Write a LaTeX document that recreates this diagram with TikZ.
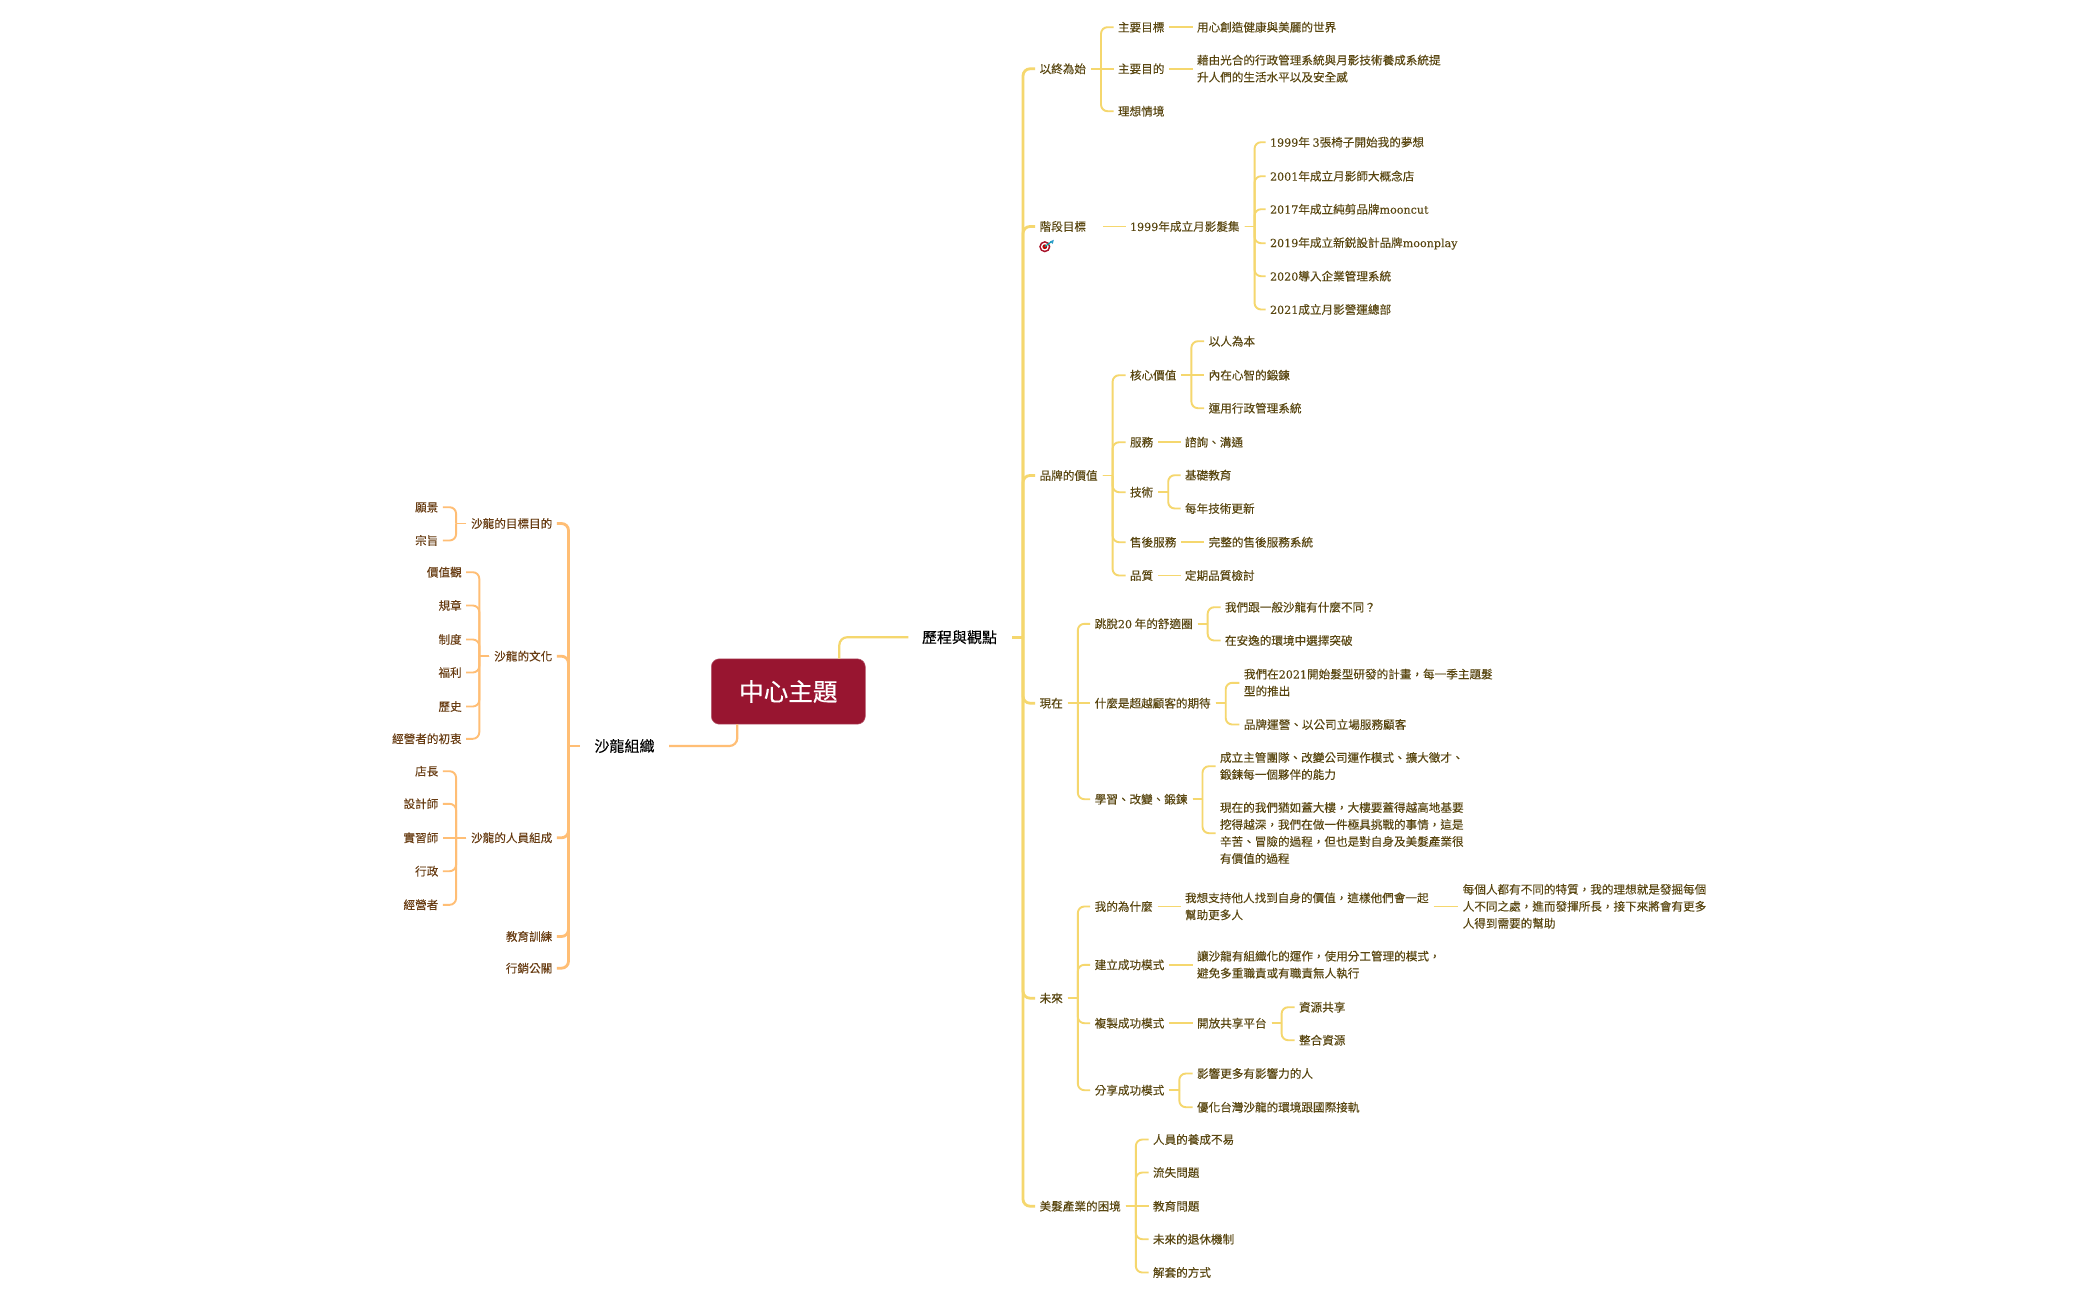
\documentclass[tikz,border=0pt]{standalone}
\usepackage{fontspec}
\setmainfont{Noto Sans CJK TC}[FakeBold=0.04]
\newfontfamily\latf{DejaVu Serif}[Scale=0.96,FakeBold=0.04]
\newfontfamily\rootf{Noto Sans CJK TC}[FakeBold=0.4]
\newcommand{\ltn}[1]{{\latf #1}}
\newcommand{\sr}{\rule[-0.12em]{0pt}{1em}}
\definecolor{lineR}{HTML}{F5D76E}
\definecolor{lineL}{HTML}{FFBE75}
\definecolor{txtR}{HTML}{594610}
\definecolor{txtL}{HTML}{683C12}
\definecolor{rootC}{HTML}{981530}
\tikzset{
  base/.style={inner sep=0pt,outer sep=0pt,align=left,font=\fontsize{11.6}{17}\selectfont,execute at begin node=\sr},
  rt/.style={base,anchor=west,text=txtR},
  lt/.style={base,anchor=east,text=txtL,align=right},
  bigt/.style={inner sep=0pt,outer sep=0pt,font=\fontsize{15}{18}\selectfont,text=black,execute at begin node=\sr},
  rootbox/.style={draw=rootC!70!white,line width=0.5pt,fill=rootC,rounded corners=8pt,minimum width=154pt,minimum height=65.4pt,inner sep=0pt,text=white,font=\rootf\fontsize{24.6}{28}\selectfont},
  linkR/.style={draw=lineR,line width=1.9pt,rounded corners=6.5pt},
  linkL/.style={draw=lineL,line width=1.9pt,rounded corners=6.5pt},
  trunkR/.style={draw=lineR,line width=2.8pt,rounded corners=7pt},
  trunkL/.style={draw=lineL,line width=2.8pt,rounded corners=7pt},
  mainR/.style={draw=lineR,line width=2.2pt,rounded corners=8pt},
  mainL/.style={draw=lineL,line width=2.2pt,rounded corners=8pt}
}
% bracket connectors: parent, child
\newcommand{\rc}[2]{%
  \draw[linkR] ([xshift=5pt]#1.east) -- ([xshift=15pt]#1.east);
  \draw[linkR] ([xshift=15pt]#1.east) |- ([xshift=-4.5pt]#2.west);}
\newcommand{\rtk}[2]{%
  \draw[trunkR] ([xshift=15pt]#1.east) -- ([xshift=26pt]#1.east);
  \draw[trunkR] ([xshift=26pt]#1.east) |- ([xshift=-4.5pt]#2.west);}
\newcommand{\lc}[2]{%
  \draw[linkL] ([xshift=-5pt]#1.west) -- ([xshift=-15pt]#1.west);
  \draw[linkL] ([xshift=-15pt]#1.west) |- ([xshift=4.5pt]#2.east);}
\newcommand{\ltk}[2]{%
  \draw[trunkL] ([xshift=-15pt]#1.west) -- ([xshift=-26pt]#1.west);
  \draw[trunkL] ([xshift=-26pt]#1.west) |- ([xshift=4.5pt]#2.east);}
% straight connectors: parent, child at the same height
\newcommand{\rs}[2]{\draw[linkR] ([xshift=5pt]#1.east) -- ([xshift=-4.5pt]#2.west);}
\newcommand{\ls}[2]{\draw[linkL] ([xshift=-5pt]#1.west) -- ([xshift=4.5pt]#2.east);}
\begin{document}
\begin{tikzpicture}[x=1pt,y=-1pt]
\useasboundingbox (0,-0.5) rectangle (2100,1298.5);
\fill[white] (0,-0.5) rectangle (2100,1298.5);
% root and main topics
\node[rootbox] (root) at (788.3,691) {中心主題};
\node[bigt,anchor=west] (hist) at (922,636.7) {歷程與觀點};
\node[bigt,anchor=east] (salon) at (654.5,745.5) {沙龍組織};
% right: level 1
\node[rt] (a) at (1039.6,68.3) {以終為始};
\node[rt] (b) at (1039.6,226) {階段目標};
\node[rt] (c) at (1039.6,475) {品牌的價值};
\node[rt] (d) at (1039.6,702.7) {現在};
\node[rt] (e) at (1039.6,997.7) {未來};
\node[rt] (f) at (1039.6,1205.7) {美髮產業的困境};
% a
\node[rt] (a1) at (1118,26.7) {主要目標};
\node[rt] (a2) at (1118,68.3) {主要目的};
\node[rt] (a3) at (1118,110.7) {理想情境};
\node[rt] (a1x) at (1197,26.7) {用心創造健康與美麗的世界};
\node[rt] (a2x) at (1197,68.3) {藉由光合的行政管理系統與月影技術養成系統提\\升人們的生活水平以及安全感\sr};
% b
\node[rt] (b1) at (1130,226) {\ltn{1999}年成立月影髮集};
\node[rt] (b11) at (1270,141.7) {\ltn{1999}年 \ltn{3}張椅子開始我的夢想};
\node[rt] (b12) at (1270,175.7) {\ltn{2001}年成立月影師大概念店};
\node[rt] (b13) at (1270,208.7) {\ltn{2017}年成立純剪品牌\ltn{mooncut}};
\node[rt] (b14) at (1270,242.7) {\ltn{2019}年成立新鋭設計品牌\ltn{moonplay}};
\node[rt] (b15) at (1270,275.7) {\ltn{2020}導入企業管理系統};
\node[rt] (b16) at (1270,309) {\ltn{2021}成立月影營運總部};
% c
\node[rt] (c1) at (1130,374.7) {核心價值};
\node[rt] (c2) at (1130,441.7) {服務};
\node[rt] (c3) at (1130,491.7) {技術};
\node[rt] (c4) at (1130,541.7) {售後服務};
\node[rt] (c5) at (1130,575) {品質};
\node[rt] (c11) at (1208.7,340.7) {以人為本};
\node[rt] (c12) at (1208.7,374.7) {內在心智的鍛鍊};
\node[rt] (c13) at (1208.7,407.7) {運用行政管理系統};
\node[rt] (c21) at (1185,441.7) {諮詢、溝通};
\node[rt] (c31) at (1185,474.7) {基礎教育};
\node[rt] (c32) at (1185,508) {每年技術更新};
\node[rt] (c41) at (1208.7,541.7) {完整的售後服務系統};
\node[rt] (c51) at (1185,575) {定期品質檢討};
% d
\node[rt] (d1) at (1094.7,623.3) {跳脫\ltn{20} 年的舒適圈};
\node[rt] (d2) at (1094.7,702.7) {什麼是超越顧客的期待};
\node[rt] (d3) at (1094.7,798.7) {學習、改變、鍛鍊};
\node[rt] (d11) at (1225,606.7) {我們跟一般沙龍有什麼不同？};
\node[rt] (d12) at (1225,640) {在安逸的環境中選擇突破};
\node[rt] (d21) at (1243.9,682.3) {我們在\ltn{2021}開始髮型研發的計畫，每一季主題髮\\型的推出\sr};
\node[rt] (d22) at (1243.9,724) {品牌運營、以公司立場服務顧客};
\node[rt] (d31) at (1220,765.7) {成立主管團隊、改變公司運作模式、擴大徵才、\\鍛鍊每一個夥伴的能力\sr};
\node[rt] (d32) at (1220,832.7) {現在的我們猶如蓋大樓，大樓要蓋得越高地基要\\挖得越深，我們在做一件極具挑戰的事情，這是\\辛苦、冒險的過程，但也是對自身及美髮產業很\\有價值的過程\sr};
% e
\node[rt] (e1) at (1094.7,906) {我的為什麼};
\node[rt] (e2) at (1094.7,964.3) {建立成功模式};
\node[rt] (e3) at (1094.7,1022.7) {複製成功模式};
\node[rt] (e4) at (1094.7,1089.7) {分享成功模式};
\node[rt] (e11) at (1185,906) {我想支持他人找到自身的價值，這樣他們會一起\\幫助更多人\sr};
\node[rt] (e111) at (1462.7,906) {每個人都有不同的特質，我的理想就是發掘每個\\人不同之處，進而發揮所長，接下來將會有更多\\人得到需要的幫助\sr};
\node[rt] (e21) at (1197,964.3) {讓沙龍有組織化的運作，使用分工管理的模式，\\避免多重職責或有職責無人執行\sr};
\node[rt] (e31) at (1197,1022.7) {開放共享平台};
\node[rt] (e311) at (1299,1006.7) {資源共享};
\node[rt] (e312) at (1299,1039.7) {整合資源};
\node[rt] (e41) at (1197,1073) {影響更多有影響力的人};
\node[rt] (e42) at (1197,1106.7) {優化台灣沙龍的環境跟國際接軌};
% f
\node[rt] (f1) at (1153,1139) {人員的養成不易};
\node[rt] (f2) at (1153,1172) {流失問題};
\node[rt] (f3) at (1153,1205.7) {教育問題};
\node[rt] (f4) at (1153,1238.7) {未來的退休機制};
\node[rt] (f5) at (1153,1272) {解套的方式};
% left
\node[lt] (s1) at (552.3,523) {沙龍的目標目的};
\node[lt] (s2) at (552.3,655.7) {沙龍的文化};
\node[lt] (s3) at (552.3,837.3) {沙龍的人員組成};
\node[lt] (s4) at (552.3,936) {教育訓練};
\node[lt] (s5) at (552.3,967.7) {行銷公關};
\node[lt] (s11) at (438.3,506.7) {願景};
\node[lt] (s12) at (438.3,540) {宗旨};
\node[lt] (s21) at (461.7,571.7) {價值觀};
\node[lt] (s22) at (461.7,605) {規章};
\node[lt] (s23) at (461.7,639) {制度};
\node[lt] (s24) at (461.7,672) {福利};
\node[lt] (s25) at (461.7,706) {歷史};
\node[lt] (s26) at (461.7,738.3) {經營者的初衷};
\node[lt] (s31) at (438.3,770.7) {店長};
\node[lt] (s32) at (438.3,803.3) {設計師};
\node[lt] (s33) at (438.3,837.3) {實習師};
\node[lt] (s34) at (438.3,870.7) {行政};
\node[lt] (s35) at (438.3,904.3) {經營者};
% connectors: centre
\draw[mainR] ([xshift=51pt]root.north) |- ([xshift=-13.7pt]hist.west);
\draw[mainL] ([xshift=-51pt]root.south) |- ([xshift=14.5pt]salon.east);
% trunks
\foreach \k in {a,b,c,d,e,f}{\rtk{hist}{\k}}
\foreach \k in {s1,s2,s3,s4,s5}{\ltk{salon}{\k}}
% right links
\foreach \k in {a1,a3}{\rc{a}{\k}}
\rs{a}{a2}
\rs{a1}{a1x}
\rs{a2}{a2x}
\draw[linkR] ([xshift=17pt]b.east) -- ([xshift=-4.5pt]b1.west);
\foreach \k in {b11,b12,b13,b14,b15,b16}{\rc{b1}{\k}}
\foreach \k in {c1,c2,c3,c4,c5}{\rc{c}{\k}}
\foreach \k in {c11,c13}{\rc{c1}{\k}}
\rs{c1}{c12}
\rs{c2}{c21}
\rc{c3}{c31}
\rc{c3}{c32}
\rs{c4}{c41}
\rs{c5}{c51}
\foreach \k in {d1,d3}{\rc{d}{\k}}
\rs{d}{d2}
\rc{d1}{d11}
\rc{d1}{d12}
\rc{d2}{d21}
\rc{d2}{d22}
\rc{d3}{d31}
\rc{d3}{d32}
\foreach \k in {e1,e2,e3,e4}{\rc{e}{\k}}
\rs{e1}{e11}
\rs{e11}{e111}
\rs{e2}{e21}
\rs{e3}{e31}
\rc{e31}{e311}
\rc{e31}{e312}
\rc{e4}{e41}
\rc{e4}{e42}
\foreach \k in {f1,f2,f4,f5}{\rc{f}{\k}}
\rs{f}{f3}
% left links
\lc{s1}{s11}
\lc{s1}{s12}
\foreach \k in {s21,s22,s23,s24,s25,s26}{\lc{s2}{\k}}
\foreach \k in {s31,s32,s34,s35}{\lc{s3}{\k}}
\ls{s3}{s33}
% target icon under 階段目標
\fill[rootC!85!red] (1044.8,246.2) circle (5.6pt);
\fill[white] (1044.8,246.2) circle (3.9pt);
\fill[red!75!black] (1044.8,246.2) circle (2.4pt);
\draw[teal!70!cyan,line width=1.1pt] (1044.8,246.2) -- (1051,241.5);
\fill[cyan!60!teal] (1049.8,241) -- (1053.8,239.3) -- (1052.8,243.4) -- cycle;
\end{tikzpicture}
\end{document}
